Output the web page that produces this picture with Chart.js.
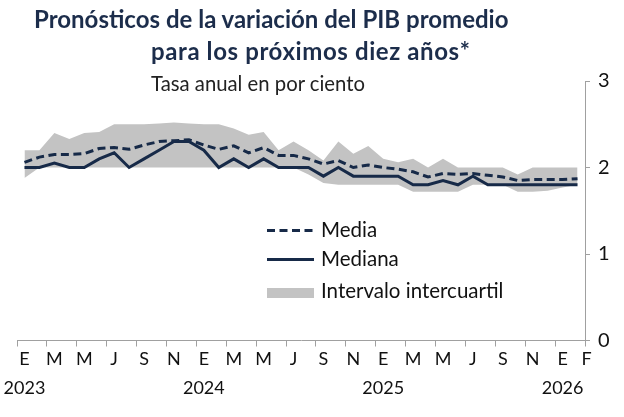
<!DOCTYPE html>
<html>
<head>
<meta charset="utf-8">
<script src="https://cdn.jsdelivr.net/npm/chart.js"></script>
<style>
  html, body { margin: 0; padding: 0; background: #fff; }
  #wrap { position: relative; width: 624px; height: 417px; overflow: hidden; }
  .t { position: absolute; white-space: nowrap; font-family: Lato, sans-serif; }
  .tit { font-weight: bold; font-size: 24px; color: #1c2d4b; }
  .sub { font-size: 20.3px; color: #222; }
</style>
</head>
<body>
<div id="wrap">
  <canvas id="pib" width="624" height="417"></canvas>
  <div class="t tit" style="left:34px;top:4px">Pronósticos de la variación del PIB promedio</div>
  <div class="t tit" style="left:151px;top:36px;letter-spacing:0.6px">para los próximos diez años*</div>
  <div class="t sub" style="left:151px;top:71px">Tasa anual en por ciento</div>
</div>
<script>
// meses de ene-2023 a feb-2026
const meses = ["E","F","M","A","M","J","J","A","S","O","N","D",
               "E","F","M","A","M","J","J","A","S","O","N","D",
               "E","F","M","A","M","J","J","A","S","O","N","D",
               "E","F"];
const anios = ["2023","2024","2025","2026"];

const media = [2.06,2.12,2.15,2.15,2.16,2.22,2.23,2.21,2.26,2.30,2.31,2.32,
               2.26,2.21,2.25,2.17,2.23,2.14,2.14,2.10,2.04,2.08,2.00,2.03,
               2.00,1.98,1.95,1.89,1.93,1.92,1.93,1.91,1.89,1.85,1.86,1.86,
               1.86,1.87];
const mediana = [2.0,2.0,2.05,2.0,2.0,2.1,2.17,2.0,2.1,2.2,2.3,2.3,
                 2.2,2.0,2.1,2.0,2.1,2.0,2.0,2.0,1.9,2.0,1.9,1.9,
                 1.9,1.9,1.8,1.8,1.85,1.8,1.9,1.8,1.8,1.8,1.8,1.8,
                 1.8,1.8];
const cuartilSup = [2.2,2.2,2.4,2.33,2.4,2.41,2.5,2.5,2.5,2.51,2.52,2.51,
                    2.5,2.5,2.45,2.38,2.41,2.2,2.3,2.2,2.08,2.3,2.16,2.25,
                    2.1,2.06,2.1,2.0,2.1,2.0,2.0,2.0,2.0,1.92,2.0,2.0,
                    2.0,2.0];
const cuartilInf = [1.88,2.0,2.0,2.0,2.0,2.0,2.0,2.0,2.0,2.0,2.0,2.0,
                    2.0,2.0,2.0,2.0,2.0,2.0,2.0,1.92,1.82,1.8,1.8,1.8,
                    1.8,1.8,1.72,1.72,1.72,1.72,1.8,1.8,1.8,1.72,1.72,1.73,
                    1.77,1.8];
const yTicks = [0,1,2,3];

const azul = "#172a48";
const gris = "#c3c3c3";
const eje = "#a0a0a0";

// etiquetas: cada dos meses, año debajo de enero, F al final
const etiquetas = meses.map((m, i) => {
  if (i === meses.length - 1) return "\u2002\u2002" + m;
  if (i % 2 !== 0) return "";
  if (i % 12 === 0) return [m, anios[i / 12]];
  return m;
});

const leyenda = {
  id: "leyenda",
  afterDraw(chart) {
    const ctx = chart.ctx;
    ctx.save();
    ctx.strokeStyle = azul;
    ctx.lineWidth = 3;
    ctx.setLineDash([8, 4.5]);
    ctx.beginPath(); ctx.moveTo(267, 230.5); ctx.lineTo(314, 230.5); ctx.stroke();
    ctx.setLineDash([]);
    ctx.beginPath(); ctx.moveTo(267, 259.5); ctx.lineTo(314, 259.5); ctx.stroke();
    ctx.fillStyle = gris;
    ctx.fillRect(267, 288, 47, 10);
    ctx.fillStyle = "#111";
    ctx.font = "20.5px Lato";
    ctx.textBaseline = "middle";
    ctx.fillText("Media", 321, 230);
    ctx.fillText("Mediana", 321, 259);
    ctx.fillText("Intervalo intercuartil", 321, 291);
    ctx.restore();
  }
};

new Chart("pib", {
  type: "line",
  data: {
    labels: etiquetas,
    datasets: [{
      label: "Media",
      data: media,
      borderColor: azul,
      borderWidth: 3,
      borderDash: [8, 4.5],
      pointRadius: 0,
      fill: false
    }, {
      label: "Mediana",
      data: mediana,
      borderColor: azul,
      borderWidth: 3,
      pointRadius: 0,
      fill: false
    }, {
      label: "Intervalo intercuartil",
      data: cuartilSup,
      borderWidth: 0,
      borderColor: "rgba(0,0,0,0)",
      backgroundColor: gris,
      pointRadius: 0,
      fill: "+1"
    }, {
      label: "inf",
      data: cuartilInf,
      borderWidth: 0,
      borderColor: "rgba(0,0,0,0)",
      pointRadius: 0,
      fill: false
    }]
  },
  options: {
    responsive: false,
    animation: false,
    layout: { padding: { left: 17, top: 81, right: 0, bottom: 0 } },
    plugins: { legend: { display: false }, tooltip: { enabled: false } },
    elements: { line: { tension: 0 } },
    scales: {
      x: {
        offset: true,
        grid: {
          offset: true,
          drawOnChartArea: false,
          tickLength: 6,
          color: c => (c.type === "scale" || c.index % 2 === 0) ? eje : "rgba(0,0,0,0)"
        },
        border: { color: eje },
        ticks: {
          autoSkip: false,
          maxRotation: 0,
          padding: -2,
          color: "#111",
          font: { family: "Lato", size: 18, lineHeight: 1.6 }
        },
        afterFit(s) { s.height = 76.5; }
      },
      y: {
        position: "right",
        min: 0,
        max: 3,
        afterBuildTicks(s) { s.ticks = yTicks.map(v => ({ value: v })); },
        grid: { drawOnChartArea: false, tickLength: 5, color: eje },
        border: { color: eje },
        ticks: {
          padding: 8,
          color: "#111",
          font: { family: "Lato", size: 20 }
        },
        afterFit(s) { s.width = 39; }
      }
    }
  },
  plugins: [leyenda]
});
</script>
</body>
</html>
